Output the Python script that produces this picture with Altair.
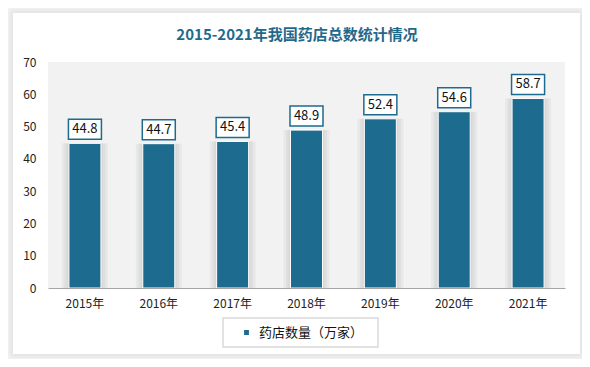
import altair as alt
import pandas as pd

years = ["2015年", "2016年", "2017年", "2018年", "2019年", "2020年", "2021年"]
values = [44.8, 44.7, 45.4, 48.9, 52.4, 54.6, 58.7]
series_name = "药店数量（万家）"
title_text = "2015-2021年我国药店总数统计情况"
y_ticks = [0, 10, 20, 30, 40, 50, 60, 70]

FONT = "Noto Sans CJK SC"
BAR = "#1d6b8e"

df = pd.DataFrame({"year": years, "value": values, "series": [series_name] * len(years)})
one = pd.DataFrame({"a": [0]})

W, H = 517, 226

x_enc = alt.X("year:N", sort=years, title=None,
              scale=alt.Scale(paddingInner=0, paddingOuter=0),
              axis=alt.Axis(labelAngle=0, labelFontSize=12, labelFont=FONT, labelColor="#222222",
                            labelPadding=10, ticks=False, domainColor="#a6a6a6", domainWidth=1,
                            grid=False, zindex=1))
y_enc = alt.Y("value:Q", title=None,
              scale=alt.Scale(domain=[0, 70], nice=False),
              axis=alt.Axis(values=y_ticks, labelFontSize=12, labelFont=FONT,
                            labelColor="#222222", labelPadding=12, ticks=False, domain=False,
                            grid=False, zindex=1, labelOverlap=False))

# card shadow + card
layers = []
for grow in [10, 8, 6, 4, 2]:
    layers.append(
        alt.Chart(one).mark_rect(fill="#000000", opacity=0.02, cornerRadius=5).encode(
            x=alt.value(-35 - grow), x2=alt.value(532 + grow),
            y=alt.value(-49 - grow), y2=alt.value(292 + grow))
    )
card = alt.Chart(one).mark_rect(fill="#ffffff").encode(
    x=alt.value(-35), x2=alt.value(532), y=alt.value(-49), y2=alt.value(292))
plot_bg = alt.Chart(one).mark_rect(fill="#f2f2f2").encode(
    x=alt.value(0), x2=alt.value(W), y=alt.value(0), y2=alt.value(H))
layers += [card, plot_bg]

base = alt.Chart(df)
for sz in [46, 41, 36]:
    layers.append(base.mark_bar(size=sz, color="#777777", opacity=0.07).encode(
        x=x_enc, y=y_enc))

bars = base.mark_bar(size=32, stroke="#ffffff", strokeWidth=1).encode(
    x=x_enc, y=y_enc,
    color=alt.Color("series:N", scale=alt.Scale(range=[BAR]), title=None,
                    legend=alt.Legend(orient="none", legendX=192, legendY=264, symbolType="square",
                                      symbolSize=40, labelFontSize=13, labelFont=FONT,
                                      labelColor="#111111", padding=0, symbolOffset=0,
                                      labelOffset=6, zindex=3)))
layers.append(bars)

boxes = base.mark_point(
    shape="M-1,-0.606L1,-0.606L1,0.606L-1,0.606Z", size=1089, filled=True,
    fill="#ffffff", stroke=BAR, strokeWidth=1.5, opacity=1, yOffset=-14).encode(
    x=x_enc, y=y_enc)
labels = base.mark_text(fontSize=13, font=FONT, color="#111111", baseline="middle",
                        yOffset=-14).encode(
    x=x_enc, y=y_enc, text=alt.Text("value:Q", format=".1f"))
layers += [boxes, labels]

title = alt.Chart(one).mark_text(text=title_text, fontSize=15, fontWeight="bold", font=FONT,
                                 color="#1f6a8c", baseline="middle", align="center").encode(
    x=alt.value(249), y=alt.value(-27))
legend_box = alt.Chart(one).mark_rect(fill="#ffffff", stroke="#d9d9d9", strokeWidth=1.5).encode(
    x=alt.value(175), x2=alt.value(330), y=alt.value(256), y2=alt.value(285))
layers += [title, legend_box]

chart = alt.layer(*layers).properties(
    width=W, height=H,
    autosize=alt.AutoSizeParams(type="none"),
    padding={"left": 40, "top": 54, "right": 17, "bottom": 71},
    background="#ffffff",
).configure_view(stroke=None)

chart.save("out.html", embed_options={"renderer": "svg", "actions": False})
